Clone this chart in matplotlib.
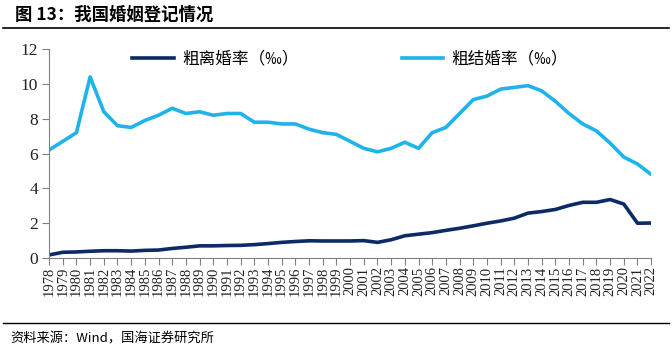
import matplotlib
matplotlib.use("Agg")
import matplotlib.pyplot as plt
from matplotlib.lines import Line2D

plt.rcParams['font.family'] = ['Noto Sans CJK SC', 'DejaVu Sans']

YEARS = list(range(1978, 2023))
MARRIAGE = [6.2, 6.7, 7.2, 10.4, 8.4, 7.6, 7.5, 7.9, 8.2, 8.6, 8.3, 8.4, 8.2, 8.3, 8.3,
            7.8, 7.8, 7.7, 7.7, 7.4, 7.2, 7.1, 6.7, 6.3, 6.1, 6.3, 6.65, 6.3, 7.2, 7.5,
            8.3, 9.1, 9.3, 9.7, 9.8, 9.9, 9.6, 9.0, 8.3, 7.7, 7.3, 6.6, 5.8, 5.4, 4.8]
DIVORCE = [0.18, 0.33, 0.35, 0.39, 0.42, 0.42, 0.40, 0.44, 0.46, 0.55, 0.62, 0.70, 0.70,
           0.72, 0.73, 0.77, 0.83, 0.90, 0.95, 0.99, 0.98, 0.98, 0.98, 1.0, 0.90, 1.05,
           1.28, 1.37, 1.46, 1.59, 1.71, 1.85, 2.0, 2.13, 2.29, 2.58, 2.67, 2.79, 3.02,
           3.2, 3.2, 3.36, 3.1, 2.0, 2.01]
LABELS = ["粗离婚率（‰）", "粗结婚率（‰）"]
TITLE = "图 13：我国婚姻登记情况"
SOURCE = "资料来源：Wind，国海证券研究所"

DARK = "#0c2a66"
LIGHT = "#1eb3ea"

fig = plt.figure(figsize=(6.72, 3.53), dpi=100)
ax = fig.add_axes([0.073, 0.269, 0.896, 0.592])

ax.plot(YEARS, DIVORCE, color=DARK, lw=2.6, solid_capstyle="round", label=LABELS[0])
ax.plot(YEARS, MARRIAGE, color=LIGHT, lw=2.6, solid_capstyle="round", label=LABELS[1])

ax.set_xlim(1978, 2022)
ax.set_ylim(0, 12)
ax.set_yticks(range(0, 13, 2))
ax.set_xticks(YEARS)
ax.set_xticklabels([str(y) for y in YEARS], rotation=90, fontfamily="Liberation Serif", fontsize=10.5)
for t in ax.get_yticklabels():
    t.set_fontfamily("Liberation Serif")
    t.set_fontsize(12.5)
ax.tick_params(axis="both", direction="out", length=5, width=0.8, colors="#808080",
               labelcolor="#222222")
ax.tick_params(axis="x", pad=1)
ax.tick_params(axis="y", pad=3)
for s in ["top", "right"]:
    ax.spines[s].set_visible(False)
for s in ["left", "bottom"]:
    ax.spines[s].set_color("#808080")
    ax.spines[s].set_linewidth(0.8)

handles = [Line2D([], [], color=DARK, lw=2.6), Line2D([], [], color=LIGHT, lw=2.6)]
ax.legend(handles, LABELS, ncol=2, frameon=False, loc="upper center",
          bbox_to_anchor=(0.5, 1.065), fontsize=12, handlelength=2.5,
          columnspacing=6.2, handletextpad=0.5)

fig.text(0.022, 0.958, TITLE, fontsize=12.5, fontweight="bold", va="center", ha="left")
fig.add_artist(Line2D([0.004, 0.996], [0.921, 0.921], color="black", lw=1.2))
fig.add_artist(Line2D([0.004, 0.996], [0.086, 0.086], color="black", lw=1.0))
fig.text(0.016, 0.04, SOURCE, fontsize=9.5, va="center", ha="left")

fig.savefig("out.png", dpi=100)
